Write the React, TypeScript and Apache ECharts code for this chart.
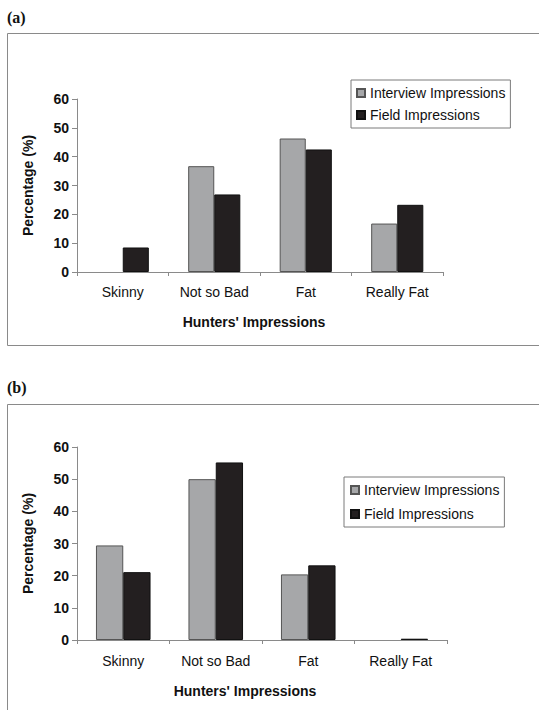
import React, { useEffect, useRef } from 'react';
import * as echarts from 'echarts';

const categories = ['Skinny', 'Not so Bad', 'Fat', 'Really Fat'];
const seriesNames = ['Interview Impressions', 'Field Impressions'];
const interviewA = [0, 36.7, 46.3, 16.8];
const fieldA = [8.5, 26.9, 42.5, 23.3];
const interviewB = [29.4, 50.0, 20.4, 0];
const fieldB = [21.1, 55.2, 23.2, 0.4];
const yMin = 0;
const yMax = 60;
const yInterval = 10;
const panelLabels = ['(a)', '(b)'];
const xAxisTitle = "Hunters' Impressions";
const yAxisTitle = 'Percentage (%)';

const SANS = '"Liberation Sans", Arial, sans-serif';
const SERIF = '"Liberation Serif", "Times New Roman", serif';
const AXIS_COLOR = '#8a8a8a';
const TEXT_COLOR = '#111111';
const GRAY = '#a6a7a9';
const BLACK = '#231f20';

export default function App() {
  const ref = useRef<HTMLDivElement>(null);

  useEffect(() => {
    if (!ref.current) return;
    const chart = echarts.init(ref.current, undefined, { renderer: 'svg' });

    const makeX = (gridIndex: number, margin: number) => ({
      type: 'category',
      gridIndex,
      data: categories,
      boundaryGap: true,
      axisLine: { show: true, lineStyle: { color: AXIS_COLOR, width: 1 } },
      axisTick: { show: true, length: 4, lineStyle: { color: AXIS_COLOR } },
      axisLabel: { margin, fontFamily: SANS, fontSize: 14, color: TEXT_COLOR },
      splitLine: { show: false },
    });
    const makeY = (gridIndex: number) => ({
      type: 'value',
      gridIndex,
      min: yMin,
      max: yMax,
      interval: yInterval,
      name: yAxisTitle,
      nameLocation: 'middle',
      nameRotate: 90,
      nameGap: 42,
      nameTextStyle: { fontFamily: SANS, fontSize: 14, fontWeight: 'bold', color: TEXT_COLOR },
      axisLine: { show: true, lineStyle: { color: AXIS_COLOR, width: 1 } },
      axisTick: { show: true, length: 5, lineStyle: { color: AXIS_COLOR } },
      axisLabel: { margin: 8, fontFamily: SANS, fontSize: 14, fontWeight: 'bold', color: TEXT_COLOR },
      splitLine: { show: false },
    });

    const barSeries = (name: string, values: number[], idx: number, color: string, border: string, gap: string) => ({
      type: 'bar',
      name,
      data: values.map((v) => ({
        value: v,
        itemStyle: v === 0 ? { borderWidth: 0 } : undefined,
      })),
      xAxisIndex: idx,
      yAxisIndex: idx,
      barGap: '0%',
      barCategoryGap: gap,
      itemStyle: { color, borderColor: border, borderWidth: 1 },
      emphasis: { disabled: true },
    });

    const legendBase = {
      orient: 'vertical',
      data: seriesNames,
      icon: 'rect',
      itemWidth: 8,
      itemHeight: 8,
      borderColor: '#7a7a7a',
      borderWidth: 1,
      backgroundColor: '#fff',
      textStyle: { fontFamily: SANS, fontSize: 14, color: TEXT_COLOR },
      selectedMode: false,
    };

    const option: any = {
      animation: false,
      backgroundColor: '#ffffff',
      grid: [
        { left: 77, top: 99, width: 366, height: 173, containLabel: false },
        { left: 77, top: 447, width: 370, height: 193, containLabel: false },
      ],
      xAxis: [makeX(0, 13), makeX(1, 14)],
      yAxis: [makeY(0), makeY(1)],
      legend: [
        { ...legendBase, left: 351, top: 80, padding: [6, 5, 6, 5], itemGap: 8 },
        { ...legendBase, left: 344, top: 477, padding: [6, 5, 6, 6], itemGap: 10 },
      ],
      series: [
        barSeries(seriesNames[0], interviewA, 0, GRAY, '#555555', '43%'),
        barSeries(seriesNames[1], fieldA, 0, BLACK, '#111111', '43%'),
        barSeries(seriesNames[0], interviewB, 1, GRAY, '#555555', '41%'),
        barSeries(seriesNames[1], fieldB, 1, BLACK, '#111111', '41%'),
      ],
      graphic: [
        {
          type: 'rect',
          shape: { x: 7.5, y: 33.5, width: 560, height: 312 },
          style: { fill: 'none', stroke: '#8a8a8a', lineWidth: 1 },
          silent: true,
        },
        {
          type: 'rect',
          shape: { x: 7.5, y: 404.5, width: 560, height: 340 },
          style: { fill: 'none', stroke: '#8a8a8a', lineWidth: 1 },
          silent: true,
        },
        {
          type: 'text',
          x: 7,
          y: 17.5,
          style: { text: panelLabels[0], font: `bold 16px ${SERIF}`, fill: TEXT_COLOR, textAlign: 'left', textVerticalAlign: 'middle' },
        },
        {
          type: 'text',
          x: 7,
          y: 387.5,
          style: { text: panelLabels[1], font: `bold 16px ${SERIF}`, fill: TEXT_COLOR, textAlign: 'left', textVerticalAlign: 'middle' },
        },
        {
          type: 'text',
          x: 254,
          y: 322,
          style: { text: xAxisTitle, font: `bold 14px ${SANS}`, fill: TEXT_COLOR, textAlign: 'center', textVerticalAlign: 'middle' },
        },
        {
          type: 'text',
          x: 245,
          y: 691,
          style: { text: xAxisTitle, font: `bold 14px ${SANS}`, fill: TEXT_COLOR, textAlign: 'center', textVerticalAlign: 'middle' },
        },
      ],
    };

    chart.setOption(option);
    return () => {
      chart.dispose();
    };
  }, []);

  return (
    <div
      ref={ref}
      style={{ position: 'fixed', left: 0, top: 0, width: 539, height: 710, background: '#fff' }}
    />
  );
}
